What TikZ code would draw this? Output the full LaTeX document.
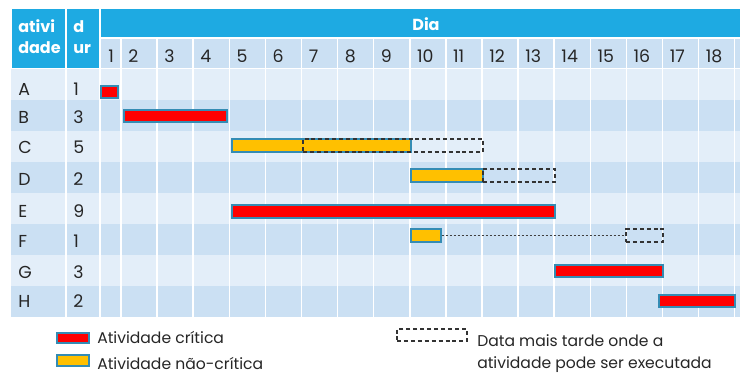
\documentclass[tikz,border=0pt]{standalone}
\usepackage{fontspec}
\setmainfont{Poppins}
\usetikzlibrary{fit}

\definecolor{headblue}{RGB}{30,170,226}
\definecolor{rowlight}{RGB}{227,238,249}
\definecolor{rowdark}{RGB}{203,224,243}
\definecolor{barline}{RGB}{52,140,180}
\definecolor{critred}{RGB}{255,0,0}
\definecolor{freeyellow}{RGB}{255,192,0}

\tikzset{
	critbar/.style={draw=barline,fill=critred,line width=0.8pt,inner sep=0pt},
	freebar/.style={draw=barline,fill=freeyellow,line width=0.8pt,inner sep=0pt},
	latebox/.style={draw=black!80,dash pattern=on 3pt off 2.2pt,line width=0.8pt,inner sep=0pt},
	headtxt/.style={text=white,font=\bfseries\fontsize{12}{13}\selectfont,inner sep=0pt,anchor=base west},
	celltxt/.style={text=black!85,font=\fontsize{13}{14}\selectfont,inner sep=0pt,anchor=base west},
	keytxt/.style={text=black!85,font=\fontsize{11.7}{13}\selectfont,inner sep=0pt,anchor=base west},
	gridline/.style={draw=white,line width=1.1pt},
}

\begin{document}
\begin{tikzpicture}[x=0.75pt,y=-0.75pt]
		% canvas
		\fill[white] (0,0) rectangle (740,376);
		\useasboundingbox (0,0) rectangle (740,376);
		\clip (0,0) rectangle (740,376);

		% header
		\fill[headblue] (12,9) rectangle (65,68);
		\fill[headblue] (67,9) rectangle (99,68);
		\fill[headblue] (101,9) rectangle (740,37);
		\fill[rowdark] (101,39) rectangle (740,68);
		\node[headtxt] (head-act1) at (18,32) {ativi};
		\node[headtxt] (head-act2) at (18,53) {dade};
		\node[headtxt] (head-dur1) at (73,32) {d};
		\node[headtxt] (head-dur2) at (73,53) {ur};
		\node[headtxt,anchor=base] (head-day) at (426,30) {Dia};

		% rows of activities
		\foreach \lbl/\dur/\col/\off [count=\i from 0] in {A/1/rowlight/26,B/3/rowdark/23,C/5/rowlight/22,D/2/rowdark/23,E/9/rowlight/24,F/1/rowdark/23,G/3/rowlight/23,H/2/rowdark/21}{
			\fill[\col] (11,{69+31*\i}) rectangle (740,{99.5+31*\i});
			\node[celltxt] (act-\lbl) at (18,{69+31*\i+\off}) {\lbl};
			\node[celltxt] (dur-\lbl) at (73,{69+31*\i+\off}) {\dur};
		}

		% grid
		\draw[gridline] (66,69) -- (66,317);
		\draw[gridline] (100,69) -- (100,317);
		\foreach \k in {2,...,19}
			\draw[gridline] ({121+(\k-2)*36.1},39) -- ({121+(\k-2)*36.1},317);

		% day numbers
		\node[celltxt] (day-1) at (108,62) {1};
		\foreach \k in {2,...,18}
			\node[celltxt] (day-\k) at ({121+(\k-2)*36.1+7},62) {\k};

		% bars
		\node[critbar,fit={(101,86) (118,98)}] (bar-A) {};
		\node[critbar,fit={(124,110) (227,122)}] (bar-B) {};
		\node[freebar,fit={(232,139) (411,152)}] (bar-C) {};
		\node[latebox,fit={(303,139) (483,152)}] (late-C) {};
		\node[freebar,fit={(411,169) (483,182)}] (bar-D) {};
		\node[latebox,fit={(483,169) (555,182)}] (late-D) {};
		\node[critbar,fit={(232,205) (555,218)}] (bar-E) {};
		\node[freebar,fit={(411,229) (441,242)}] (bar-F) {};
		\node[latebox,fit={(626,229) (663,242)}] (late-F) {};
		\draw[draw=black!75,line width=0.6pt,dash pattern=on 1.5pt off 1.5pt] (bar-F.east) -- (late-F.west);
		\node[critbar,fit={(555,265) (663,277)}] (bar-G) {};
		\node[critbar,fit={(659,295) (735,307)}] (bar-H) {};

		% legend
		\node[critbar,line width=1.1pt,fit={(57,333) (89,343)}] (key-crit) {};
		\node[keytxt] (txt-crit) at (97,343) {Atividade crítica};
		\node[freebar,line width=1.1pt,fit={(57,355) (89,366)}] (key-free) {};
		\node[keytxt] (txt-free) at (97,369) {Atividade não-crítica};
		\node[latebox,fit={(397,329) (467,341)}] (key-late) {};
		\node[keytxt] (txt-late1) at (477,346) {Data mais tarde onde a};
		\node[keytxt] (txt-late2) at (477,368) {atividade pode ser executada};
\end{tikzpicture}
\end{document}
